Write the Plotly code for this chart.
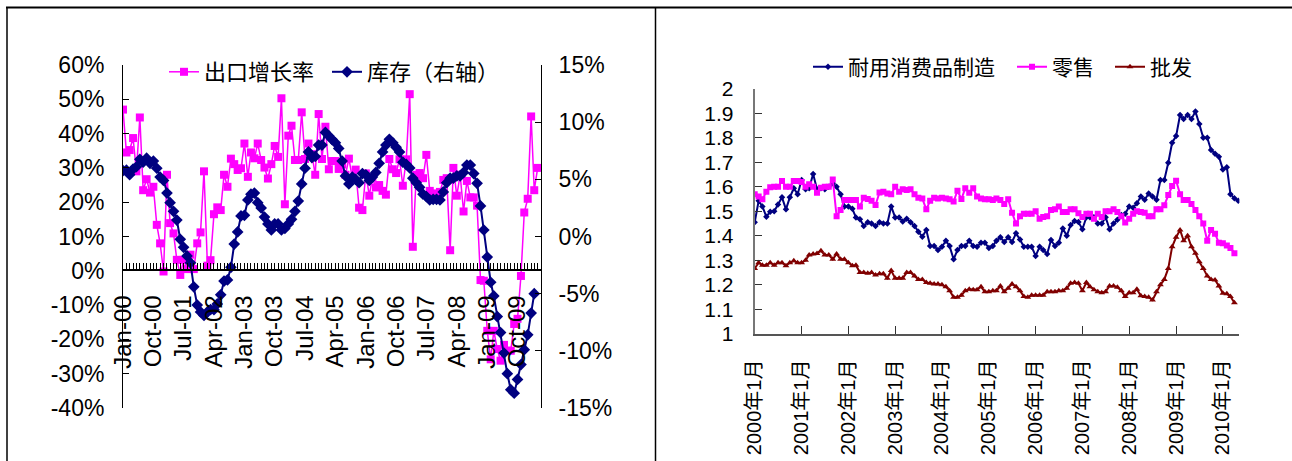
import pandas as pd
import plotly.graph_objects as go

# ---- left panel: export growth (left axis, %) and inventory growth (right axis, %) ----
export_growth = [
    47.0, 34.5, 35.2, 38.7, 29.0, 44.7, 23.5, 26.7, 22.8, 24.5,
    13.4, 8.0, -0.2, 28.0, 13.9, 10.9, 3.2, -1.2, 3.2, 0.5,
    4.7, 0.5, 8.0, 11.2, 29.0, 1.5, 3.1, 16.5, 18.5, 17.7,
    28.0, 24.5, 32.7, 31.1, 29.4, 29.9, 37.1, 27.4, 34.5, 32.8,
    37.1, 32.3, 30.1, 26.9, 31.1, 36.4, 33.2, 50.3, 19.4, 39.4,
    42.3, 32.3, 32.3, 46.2, 32.6, 37.1, 34.0, 28.0, 45.7, 32.6,
    42.0, 29.6, 32.0, 32.0, 29.7, 31.0, 28.0, 32.7, 27.0, 29.5,
    18.4, 17.7, 28.4, 21.9, 27.2, 24.3, 25.0, 23.3, 22.2, 32.6,
    29.6, 28.5, 32.5, 24.8, 32.5, 51.5, 7.0, 28.0, 28.5, 27.0,
    33.8, 23.3, 22.5, 22.5, 23.0, 26.5, 27.0, 6.0, 30.0, 21.9,
    28.0, 17.3, 26.2, 21.4, 21.4, 19.0, -2.7, -2.9, -17.5, -25.8,
    -17.5, -22.8, -26.2, -21.6, -23.3, -23.3, -15.5, -14.0, -1.5, 17.0,
    21.0, 45.0, 23.5, 30.0,
]
inventory = [
    5.76, 5.8, 5.4, 5.9, 6.1, 6.75, 6.5, 6.85, 6.4, 6.6,
    5.97, 5.2, 4.9, 3.8, 2.96, 2.2, 1.44, -0.25, -0.95, -1.7,
    -2.3, -4.4, -6.0, -6.6, -6.9, -6.6, -6.4, -6.4, -5.9, -5.1,
    -3.9, -3.8, -2.7, -0.66, 0.4, 1.8, 1.85, 3.2, 3.7, 3.8,
    2.96, 2.5, 1.7, 1.1, 0.57, 1.1, 1.1, 0.57, 0.7, 1.1,
    1.5, 2.2, 3.1, 4.6, 5.97, 7.4, 6.9, 7.0, 8.0, 8.0,
    9.1, 8.8, 8.5, 8.2, 7.7, 6.6, 5.3, 4.6, 5.2, 5.0,
    4.7, 5.5, 5.4, 4.9, 5.2, 5.6, 6.4, 7.4, 8.0, 8.5,
    8.2, 7.8, 7.4, 6.5, 6.3, 6.0, 5.1, 4.7, 4.3, 3.7,
    3.5, 3.2, 3.25, 3.25, 3.2, 3.9, 4.7, 5.1, 5.1, 5.3,
    5.3, 5.6, 6.25, 6.25, 5.5, 4.65, 2.67, 0.57, -1.8, -4.0,
    -5.2, -7.0, -8.4, -10.2, -12.0, -13.4, -13.7, -12.5, -11.2, -9.9,
    -8.6, -6.7, -5.0,
]
left_tick_labels = ["Jan-00", "Oct-00", "Jul-01", "Apr-02", "Jan-03", "Oct-03", "Jul-04",
                    "Apr-05", "Jan-06", "Oct-06", "Jul-07", "Apr-08", "Jan-09", "Oct-09"]
left_y_labels = ["-40%", "-30%", "-20%", "-10%", "0%", "10%", "20%", "30%", "40%", "50%", "60%"]
right_y_labels = ["-15%", "-10%", "-5%", "0%", "5%", "10%", "15%"]

# ---- right panel: inventory / sales ratios ----
durable = [
    1.455, 1.543, 1.52, 1.478, 1.498, 1.50, 1.528, 1.557, 1.508, 1.557,
    1.594, 1.57, 1.628, 1.59, 1.594, 1.652, 1.59, 1.594, 1.59, 1.60,
    1.614, 1.60, 1.57, 1.52, 1.52, 1.51, 1.475, 1.468, 1.44, 1.455,
    1.45, 1.44, 1.455, 1.45, 1.45, 1.52, 1.475, 1.475, 1.458, 1.47,
    1.455, 1.44, 1.417, 1.396, 1.424, 1.358, 1.358, 1.342, 1.355, 1.38,
    1.358, 1.304, 1.342, 1.358, 1.358, 1.38, 1.358, 1.355, 1.372, 1.372,
    1.35, 1.358, 1.38, 1.394, 1.375, 1.394, 1.375, 1.41, 1.385, 1.355,
    1.355, 1.355, 1.318, 1.355, 1.342, 1.326, 1.383, 1.358, 1.372, 1.43,
    1.40, 1.444, 1.46, 1.456, 1.427, 1.476, 1.476, 1.476, 1.45, 1.45,
    1.476, 1.427, 1.45, 1.465, 1.485, 1.49, 1.52, 1.515, 1.533, 1.56,
    1.547, 1.573, 1.56, 1.547, 1.628, 1.628, 1.698, 1.78, 1.807, 1.893,
    1.877, 1.893, 1.877, 1.907, 1.856, 1.80, 1.80, 1.75, 1.735, 1.723,
    1.671, 1.68, 1.57, 1.553, 1.543,
]
retail = [
    1.57, 1.56, 1.549, 1.58, 1.598, 1.60, 1.60, 1.624, 1.60, 1.60,
    1.624, 1.624, 1.62, 1.60, 1.61, 1.60, 1.576, 1.596, 1.60, 1.60,
    1.63, 1.48, 1.505, 1.546, 1.546, 1.546, 1.546, 1.52, 1.555, 1.55,
    1.543, 1.526, 1.577, 1.58, 1.573, 1.57, 1.60, 1.58, 1.59, 1.587,
    1.59, 1.57, 1.555, 1.552, 1.508, 1.543, 1.555, 1.552, 1.555, 1.552,
    1.549, 1.54, 1.584, 1.55, 1.594, 1.576, 1.594, 1.56, 1.552, 1.549,
    1.549, 1.546, 1.552, 1.546, 1.53, 1.549, 1.494, 1.45, 1.48, 1.49,
    1.49, 1.49, 1.50, 1.47, 1.477, 1.48, 1.505, 1.508, 1.52, 1.497,
    1.497, 1.508, 1.508, 1.492, 1.477, 1.49, 1.49, 1.47, 1.49, 1.477,
    1.50, 1.50, 1.508, 1.497, 1.48, 1.454, 1.47, 1.49, 1.50, 1.497,
    1.494, 1.48, 1.48, 1.508, 1.508, 1.525, 1.567, 1.603, 1.625, 1.57,
    1.546, 1.546, 1.53, 1.505, 1.48, 1.45, 1.38, 1.424, 1.408, 1.372,
    1.37, 1.36, 1.35, 1.329,
]
wholesale = [
    1.267, 1.29, 1.28, 1.28, 1.29, 1.28, 1.29, 1.29, 1.278, 1.29,
    1.298, 1.29, 1.29, 1.30, 1.322, 1.326, 1.328, 1.339, 1.322, 1.322,
    1.304, 1.326, 1.304, 1.304, 1.29, 1.278, 1.28, 1.25, 1.25, 1.247,
    1.25, 1.24, 1.245, 1.245, 1.227, 1.258, 1.227, 1.227, 1.227, 1.25,
    1.25, 1.236, 1.222, 1.222, 1.209, 1.206, 1.203, 1.203, 1.20, 1.192,
    1.176, 1.149, 1.149, 1.157, 1.176, 1.182, 1.18, 1.18, 1.192, 1.172,
    1.172, 1.176, 1.176, 1.195, 1.172, 1.186, 1.203, 1.192, 1.176, 1.152,
    1.149, 1.157, 1.157, 1.157, 1.157, 1.172, 1.172, 1.172, 1.176, 1.176,
    1.186, 1.206, 1.209, 1.206, 1.176, 1.209, 1.192, 1.18, 1.172, 1.168,
    1.172, 1.195, 1.195, 1.19, 1.176, 1.152, 1.168, 1.168, 1.182, 1.155,
    1.152, 1.149, 1.138, 1.172, 1.20, 1.222, 1.267, 1.355, 1.394, 1.424,
    1.38, 1.40, 1.355, 1.329, 1.294, 1.267, 1.236, 1.222, 1.22, 1.195,
    1.166, 1.163, 1.152, 1.127,
]
year_labels = ["2000年1月", "2001年1月", "2002年1月", "2003年1月", "2004年1月", "2005年1月",
               "2006年1月", "2007年1月", "2008年1月", "2009年1月", "2010年1月"]

W, H = 1292, 461
FONT = "Liberation Sans, Arial, Noto Sans CJK SC, sans-serif"


def px_x(v):
    return v / W


def px_y(v):
    return 1 - v / H


def months(n):
    return pd.date_range("2000-01-01", periods=n, freq="MS")


def legend_box(x_px, y_px, size):
    return dict(orientation="h", x=px_x(x_px), xanchor="left", y=px_y(y_px), yanchor="middle",
                font=dict(size=size), bgcolor="rgba(0,0,0,0)", itemwidth=30, visible=True)


left_tickvals = pd.date_range("2000-01-01", periods=len(left_tick_labels), freq="9MS")
year_tickvals = pd.date_range("2000-01-01", periods=len(year_labels), freq="12MS")

fig = go.Figure()

fig.add_trace(go.Scatter(
    x=months(len(export_growth)), y=export_growth, name="出口增长率",
    mode="lines+markers", xaxis="x", yaxis="y", legend="legend", showlegend=True,
    line=dict(color="#FF00FF", width=1.5),
    marker=dict(symbol="square", size=8, color="#FF00FF"),
))
fig.add_trace(go.Scatter(
    x=months(len(inventory)), y=inventory, name="库存（右轴）",
    mode="lines+markers", xaxis="x", yaxis="y2", legend="legend2", showlegend=True,
    line=dict(color="#000080", width=2),
    marker=dict(symbol="diamond", size=9, color="#000080"),
))

fig.add_trace(go.Scatter(
    x=months(len(durable)), y=durable, name="耐用消费品制造",
    mode="lines+markers", xaxis="x2", yaxis="y3", legend="legend3", showlegend=True,
    line=dict(color="#000080", width=2),
    marker=dict(symbol="diamond", size=5, color="#000080"),
))
fig.add_trace(go.Scatter(
    x=months(len(retail)), y=retail, name="零售",
    mode="lines+markers", xaxis="x2", yaxis="y3", legend="legend4", showlegend=True,
    line=dict(color="#FF00FF", width=2),
    marker=dict(symbol="square", size=6, color="#FF00FF"),
))
fig.add_trace(go.Scatter(
    x=months(len(wholesale)), y=wholesale, name="批发",
    mode="lines+markers", xaxis="x2", yaxis="y3", legend="legend5", showlegend=True,
    line=dict(color="#800000", width=2),
    marker=dict(symbol="triangle-up", size=6, color="#800000"),
))

left_dom_y = [px_y(408), px_y(65)]
right_dom_y = [px_y(333.8), px_y(88.8)]

fig.update_layout(
    width=W, height=H, autosize=False, showlegend=True,
    margin=dict(l=0, r=0, t=0, b=0, pad=0, autoexpand=False),
    paper_bgcolor="white", plot_bgcolor="white",
    font=dict(family=FONT, size=22, color="black"),
    xaxis=dict(
        type="date", domain=[px_x(123), px_x(541)],
        range=["2000-01-01", "2010-05-01"],
        anchor="free", position=px_y(270),
        tickvals=left_tickvals, ticktext=left_tick_labels, tickangle=-90,
        ticks="inside", ticklen=6, tickcolor="black", tickwidth=1,
        minor=dict(ticks="inside", ticklen=6, dtick="M1", tick0="2000-01-01",
                   tickcolor="black", tickwidth=1, showgrid=False),
        showline=True, linecolor="black", linewidth=1.5,
        showgrid=False, zeroline=False, automargin=False,
        tickfont=dict(size=24), ticklabelstandoff=15,
    ),
    yaxis=dict(
        domain=left_dom_y, anchor="x", range=[-40, 60],
        tickvals=[-40, -30, -20, -10, 0, 10, 20, 30, 40, 50, 60], ticktext=left_y_labels,
        ticks="inside", ticklen=6, tickcolor="black",
        showline=True, linecolor="black", linewidth=1, automargin=False,
        showgrid=False, zeroline=False, tickfont=dict(size=23), ticklabelstandoff=13,
    ),
    yaxis2=dict(
        overlaying="y", side="right", anchor="x", range=[-15, 15],
        tickvals=[-15, -10, -5, 0, 5, 10, 15], ticktext=right_y_labels,
        ticks="inside", ticklen=6, tickcolor="black",
        showline=True, linecolor="black", linewidth=1, automargin=False,
        showgrid=False, zeroline=False, tickfont=dict(size=23), ticklabelstandoff=12,
    ),
    xaxis2=dict(
        type="date", domain=[px_x(754.7), px_x(1239.4)],
        range=["2000-01-01", "2010-05-10"], anchor="y3",
        tickvals=year_tickvals, ticktext=year_labels, tickangle=-90,
        ticks="inside", ticklen=8, tickcolor="#333", tickwidth=1,
        showline=True, linecolor="#555", linewidth=1.5, automargin=False,
        showgrid=False, zeroline=False,
        tickfont=dict(size=20), ticklabelstandoff=16,
    ),
    yaxis3=dict(
        domain=right_dom_y, anchor="x2", range=[1, 2], dtick=0.1,
        ticks="inside", ticklen=7, tickcolor="#333",
        showline=True, linecolor="#777", linewidth=2, automargin=False,
        showgrid=False, zeroline=False, tickfont=dict(size=21), ticklabelstandoff=15,
    ),
    legend=legend_box(164, 72, 22),
    legend2=legend_box(327, 72, 22),
    legend3=legend_box(808, 67, 21),
    legend4=legend_box(1012, 67, 21),
    legend5=legend_box(1110, 67, 21),
    shapes=[
        dict(type="line", xref="paper", yref="paper", x0=px_x(6), x1=1, y0=px_y(7.5), y1=px_y(7.5),
             line=dict(color="black", width=2)),
        dict(type="line", xref="paper", yref="paper", x0=px_x(7), x1=px_x(7), y0=px_y(7.5), y1=0,
             line=dict(color="black", width=1.5)),
        dict(type="line", xref="paper", yref="paper", x0=px_x(655.5), x1=px_x(655.5), y0=px_y(7.5), y1=0,
             line=dict(color="black", width=1.5)),
    ],
)

fig.write_html("out.html", post_script="document.body.style.margin='0px';")
